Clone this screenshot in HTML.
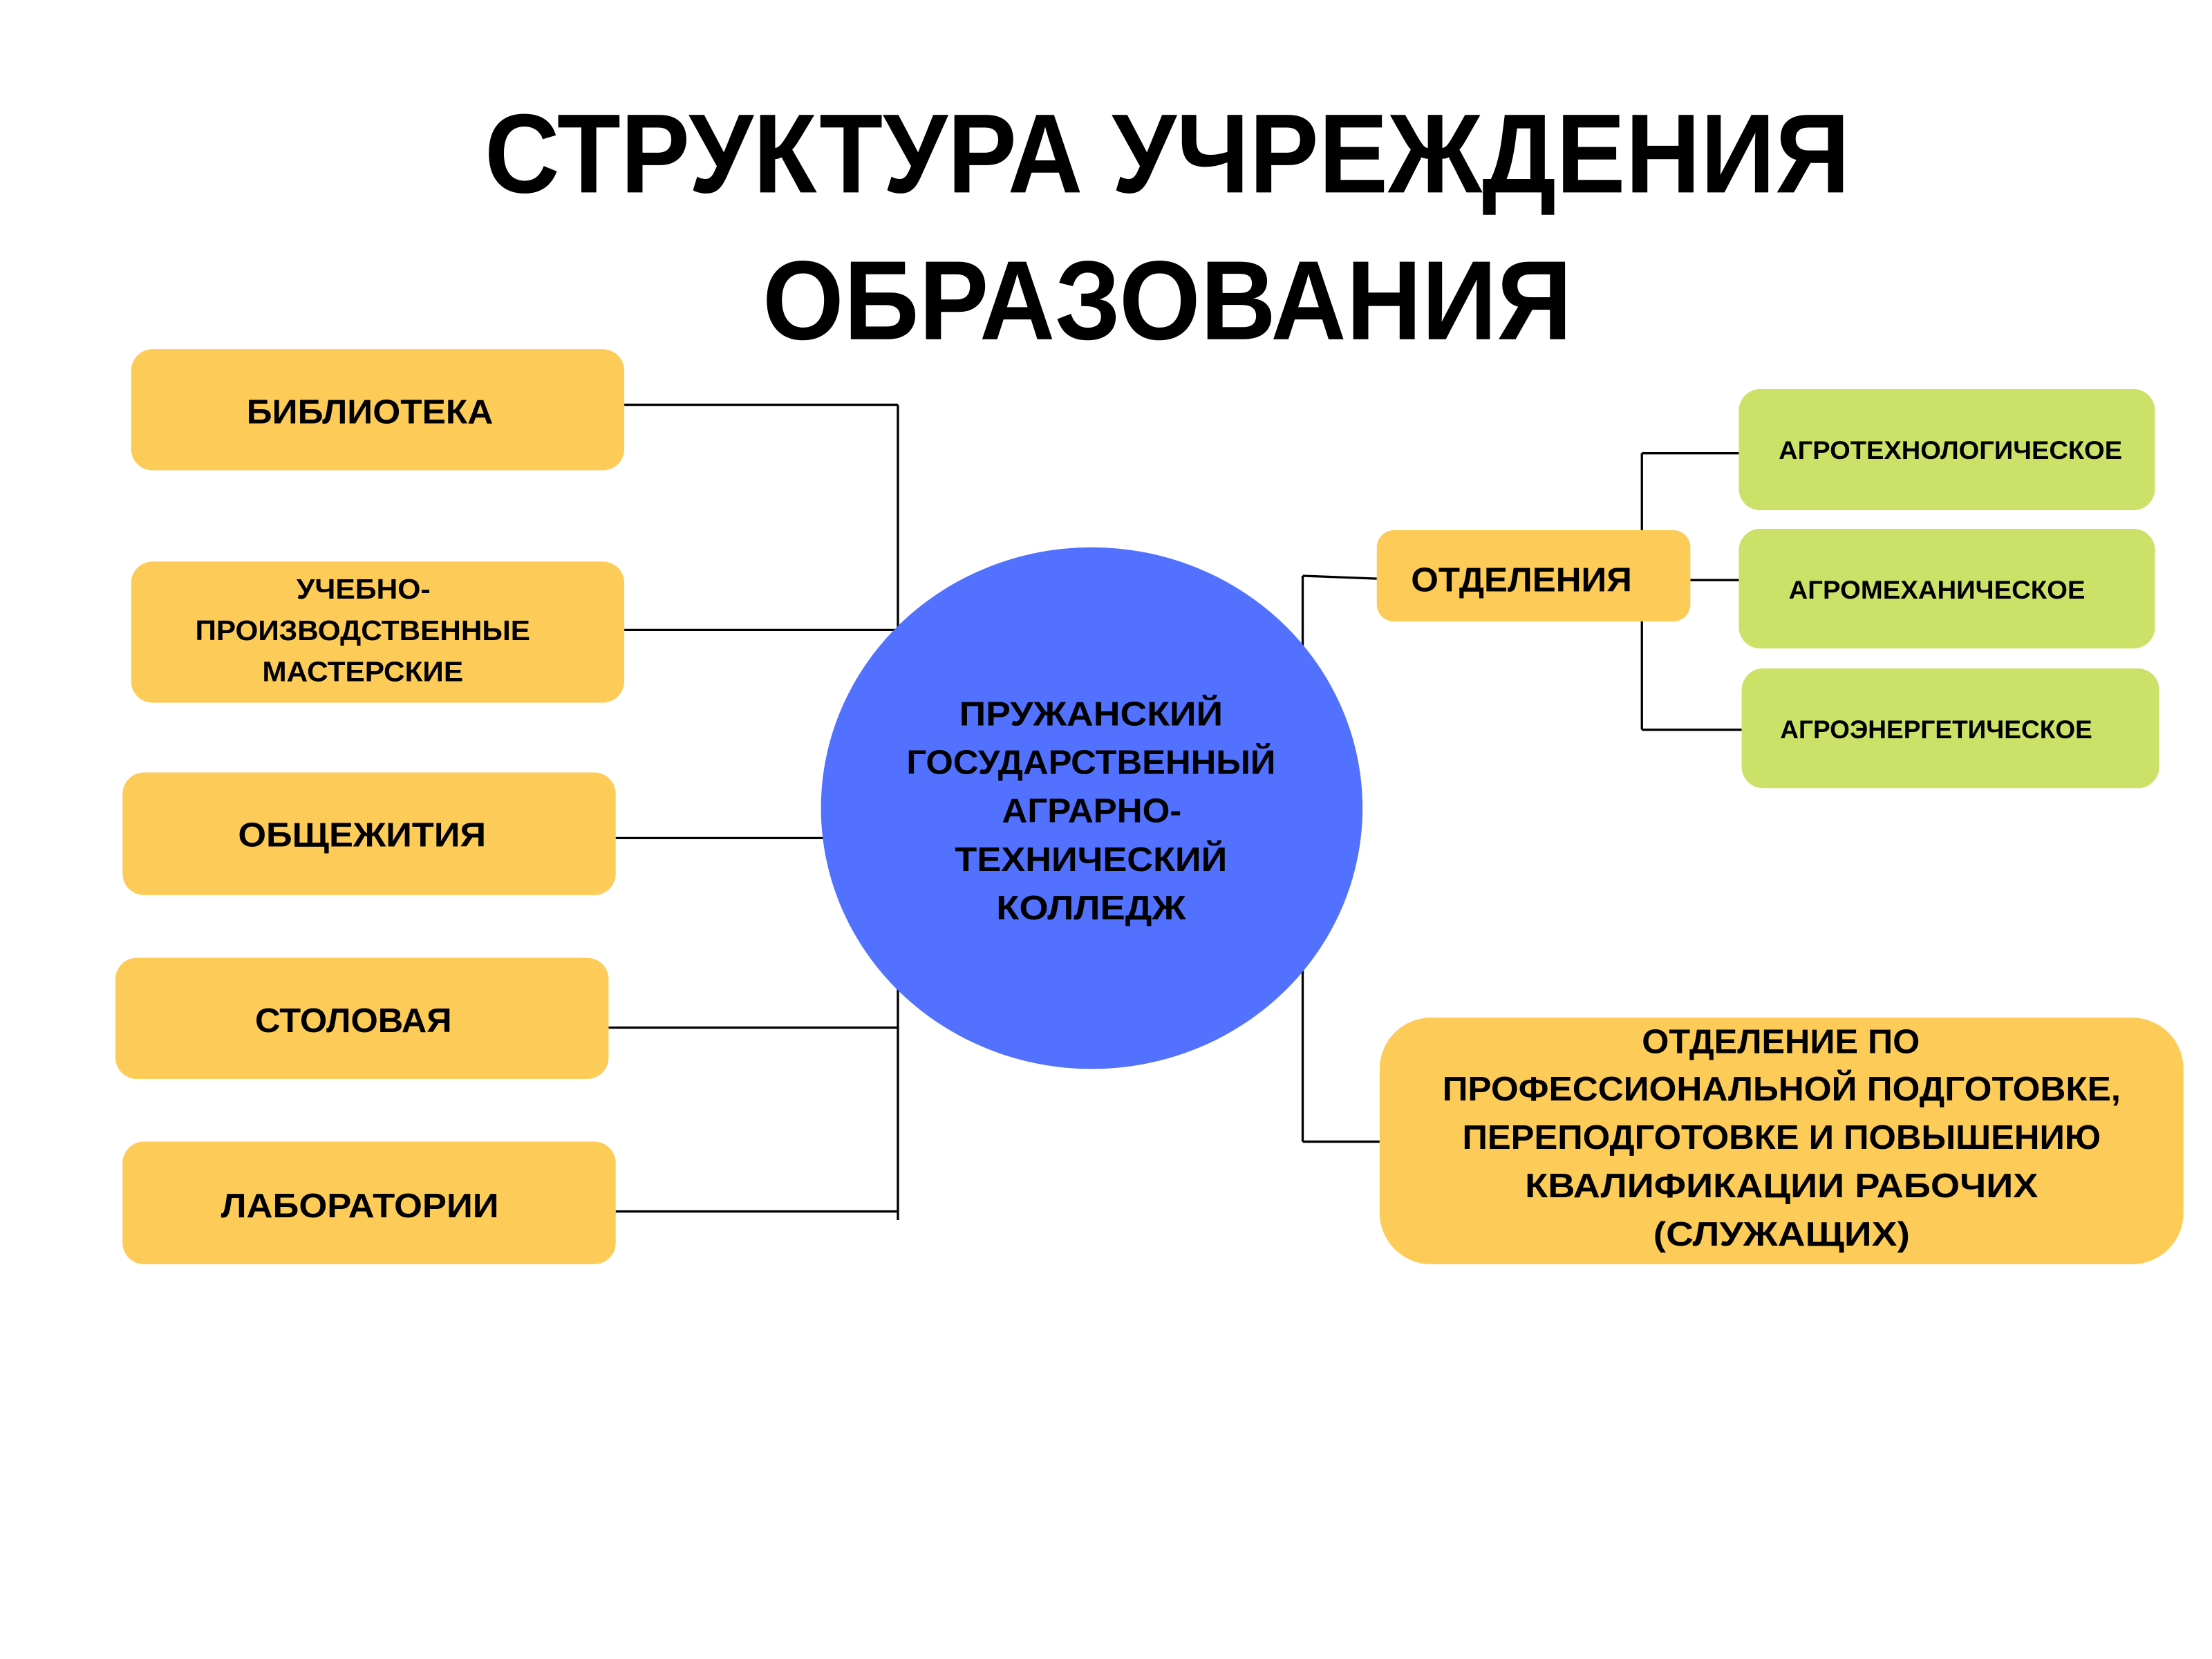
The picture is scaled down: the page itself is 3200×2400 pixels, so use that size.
<!DOCTYPE html>
<html><head><meta charset="utf-8"><style>
html,body{margin:0;padding:0;background:#fff;width:3200px;height:2400px;overflow:hidden}
svg{display:block}
text{font-family:"Liberation Sans","DejaVu Sans",sans-serif;font-weight:bold;fill:#000}
</style></head><body>
<svg width="3200" height="2400" viewBox="0 0 1552 1164" xmlns="http://www.w3.org/2000/svg">
<rect width="1552" height="1164" fill="#fff"/>
<text x="340" y="135" font-size="79" textLength="958" lengthAdjust="spacingAndGlyphs">СТРУКТУРА УЧРЕЖДЕНИЯ</text>
<text x="535" y="238" font-size="79" textLength="568" lengthAdjust="spacingAndGlyphs">ОБРАЗОВАНИЯ</text>

<g stroke="#000" stroke-width="1.6" fill="none">
<line x1="630" y1="284" x2="630" y2="856"/>
<line x1="438" y1="284" x2="630" y2="284"/>
<line x1="438" y1="442" x2="630" y2="442"/>
<line x1="432" y1="588" x2="580" y2="588"/>
<line x1="427" y1="721" x2="630" y2="721"/>
<line x1="432" y1="850" x2="630" y2="850"/>
<line x1="914" y1="404" x2="914" y2="460"/>
<line x1="914" y1="404" x2="966" y2="406"/>
<line x1="1152" y1="318" x2="1152" y2="512"/>
<line x1="1152" y1="318" x2="1220" y2="318"/>
<line x1="1186" y1="407" x2="1220" y2="407"/>
<line x1="1152" y1="512" x2="1222" y2="512"/>
<line x1="914" y1="680" x2="914" y2="801"/>
<line x1="914" y1="801" x2="968" y2="801"/>
</g>

<g fill="#FDCB58">
<rect x="92" y="245" width="346" height="85" rx="15"/>
<rect x="92" y="394" width="346" height="99" rx="15"/>
<rect x="86" y="542" width="346" height="86" rx="15"/>
<rect x="81" y="672" width="346" height="85" rx="15"/>
<rect x="86" y="801" width="346" height="86" rx="15"/>
<rect x="966" y="372" width="220" height="64" rx="12"/>
<rect x="968" y="714" width="564" height="173" rx="36"/>
</g>
<g fill="#CCE167">
<rect x="1220" y="273" width="292" height="85" rx="15"/>
<rect x="1220" y="371" width="292" height="84" rx="15"/>
<rect x="1222" y="469" width="293" height="84" rx="15"/>
</g>
<ellipse cx="766" cy="567" rx="190" ry="183" fill="#5271FF"/>

<g font-size="24" lengthAdjust="spacingAndGlyphs">
<text x="173" y="297" textLength="173" lengthAdjust="spacingAndGlyphs">БИБЛИОТЕКА</text>
<text x="167" y="594" textLength="174" lengthAdjust="spacingAndGlyphs">ОБЩЕЖИТИЯ</text>
<text x="179" y="724" textLength="138" lengthAdjust="spacingAndGlyphs">СТОЛОВАЯ</text>
<text x="155" y="854" textLength="195" lengthAdjust="spacingAndGlyphs">ЛАБОРАТОРИИ</text>
<text x="990" y="415" textLength="155" lengthAdjust="spacingAndGlyphs">ОТДЕЛЕНИЯ</text>
<text x="673" y="509" textLength="185" lengthAdjust="spacingAndGlyphs">ПРУЖАНСКИЙ</text>
<text x="636" y="543" textLength="259" lengthAdjust="spacingAndGlyphs">ГОСУДАРСТВЕННЫЙ</text>
<text x="703" y="577" textLength="126" lengthAdjust="spacingAndGlyphs">АГРАРНО-</text>
<text x="670" y="611" textLength="191" lengthAdjust="spacingAndGlyphs">ТЕХНИЧЕСКИЙ</text>
<text x="699" y="645" textLength="133" lengthAdjust="spacingAndGlyphs">КОЛЛЕДЖ</text>
<text x="1152" y="739" textLength="195" lengthAdjust="spacingAndGlyphs">ОТДЕЛЕНИЕ ПО</text>
<text x="1012" y="772" textLength="476" lengthAdjust="spacingAndGlyphs">ПРОФЕССИОНАЛЬНОЙ ПОДГОТОВКЕ,</text>
<text x="1026" y="806" textLength="448" lengthAdjust="spacingAndGlyphs">ПЕРЕПОДГОТОВКЕ И ПОВЫШЕНИЮ</text>
<text x="1070" y="840" textLength="360" lengthAdjust="spacingAndGlyphs">КВАЛИФИКАЦИИ РАБОЧИХ</text>
<text x="1160" y="874" textLength="180" lengthAdjust="spacingAndGlyphs">(СЛУЖАЩИХ)</text>
</g>
<g font-size="20">
<text x="208" y="420" textLength="94" lengthAdjust="spacingAndGlyphs">УЧЕБНО-</text>
<text x="137" y="449" textLength="235" lengthAdjust="spacingAndGlyphs">ПРОИЗВОДСТВЕННЫЕ</text>
<text x="184" y="478" textLength="141" lengthAdjust="spacingAndGlyphs">МАСТЕРСКИЕ</text>
</g>
<g font-size="18">
<text x="1248" y="322" textLength="241" lengthAdjust="spacingAndGlyphs">АГРОТЕХНОЛОГИЧЕСКОЕ</text>
<text x="1255" y="420" textLength="208" lengthAdjust="spacingAndGlyphs">АГРОМЕХАНИЧЕСКОЕ</text>
<text x="1249" y="518" textLength="219" lengthAdjust="spacingAndGlyphs">АГРОЭНЕРГЕТИЧЕСКОЕ</text>
</g>
</svg>
</body></html>
